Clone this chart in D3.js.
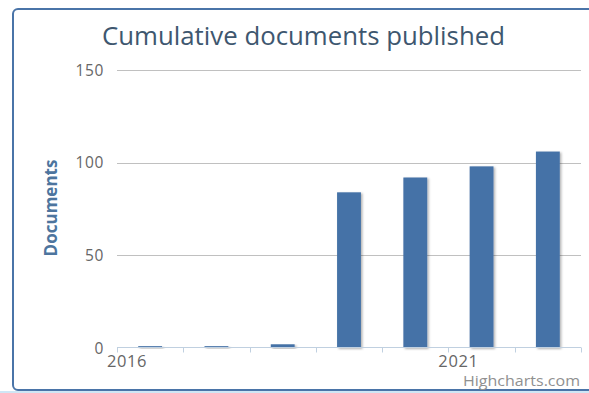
<!DOCTYPE html>
<html>
<head>
<meta charset="utf-8">
<script src="https://cdn.jsdelivr.net/npm/d3@7"></script>
<style>
  html, body { margin: 0; padding: 0; background: #fff; }
  svg { display: block; font-family: "Open Sans", "DejaVu Sans", sans-serif; }
</style>
</head>
<body>
<svg id="chart" width="589" height="393"></svg>
<script>
// Cumulative number of documents per year
const years = ["2016", "2017", "2018", "2019", "2020", "2021", "2022"];
const documents = [1, 1, 2, 84, 92, 98, 106];
const yTicks = [0, 50, 100, 150];
const xLabels = ["2016", "2021"];

const svg = d3.select("#chart");

// drop shadow for the columns
const defs = svg.append("defs");
const f = defs.append("filter").attr("id", "shadow")
  .attr("x", "-20%").attr("y", "-5%").attr("width", "150%").attr("height", "115%");
f.append("feDropShadow").attr("dx", 1.5).attr("dy", 1).attr("stdDeviation", 1.3)
  .attr("flood-color", "#000").attr("flood-opacity", 0.3);

// faint base line and chart frame
svg.append("line").attr("x1", 0).attr("x2", 589).attr("y1", 392).attr("y2", 392)
  .attr("stroke", "#cfe6f5").attr("stroke-width", 2);
svg.append("rect").attr("x", 13).attr("y", 9).attr("width", 620).attr("height", 381)
  .attr("rx", 5).attr("fill", "#fff").attr("stroke", "#4a74a8").attr("stroke-width", 2);

const x = d3.scaleBand().domain(years).range([117, 581]).paddingInner(0.64).paddingOuter(0.32);
const y = d3.scaleLinear().domain([0, 150]).range([348, 70]);

// title
svg.append("text").attr("x", 303.5).attr("y", 45).attr("text-anchor", "middle")
  .attr("fill", "#3e576f").attr("font-size", 25)
  .attr("textLength", 403).attr("lengthAdjust", "spacingAndGlyphs")
  .text("Cumulative documents published");

// horizontal grid
svg.append("g").selectAll("line").data(yTicks.filter(d => d > 0)).join("line")
  .attr("x1", 117).attr("x2", 581)
  .attr("y1", d => Math.round(y(d)) + 0.5).attr("y2", d => Math.round(y(d)) + 0.5)
  .attr("stroke", "#c0c0c0").attr("stroke-width", 1);

// y axis labels
svg.append("g").selectAll("text").data(yTicks).join("text")
  .attr("x", 104).attr("y", d => y(d) + 5.5).attr("text-anchor", "end")
  .attr("fill", "#666").attr("font-size", 15.5).attr("letter-spacing", 0.6).text(d => d);

// y axis title
svg.append("text").attr("transform", "translate(57,208) rotate(-90)")
  .attr("text-anchor", "middle").attr("fill", "#4d759e").attr("font-size", 17)
  .attr("font-weight", "bold").text("Documents");

// columns
svg.append("g").selectAll("rect").data(years).join("rect")
  .attr("x", d => x(d)).attr("width", x.bandwidth())
  .attr("y", (d, i) => y(documents[i])).attr("height", (d, i) => y(0) - y(documents[i]))
  .attr("fill", "#4572a7").attr("filter", "url(#shadow)");

// x axis line and ticks at category boundaries
const axisY = 347.5;
svg.append("line").attr("x1", 117).attr("x2", 581).attr("y1", axisY).attr("y2", axisY)
  .attr("stroke", "#c0d0e0").attr("stroke-width", 1);
const step = x.step();
const bounds = d3.range(years.length + 1).map(i => x.range()[0] + i * step);
svg.append("g").selectAll("line").data(bounds).join("line")
  .attr("x1", d => Math.round(d) + 0.5).attr("x2", d => Math.round(d) + 0.5)
  .attr("y1", axisY).attr("y2", axisY + 5)
  .attr("stroke", "#c0d0e0").attr("stroke-width", 1);

// x axis labels
svg.append("g").selectAll("text").data(xLabels).join("text")
  .attr("x", d => x(d) - x.paddingOuter() * step + 10).attr("y", 367)
  .attr("text-anchor", "middle").attr("fill", "#666").attr("font-size", 16.5)
  .attr("letter-spacing", 0.6).text(d => d);

// credits
svg.append("text").attr("x", 580).attr("y", 386).attr("text-anchor", "end")
  .attr("fill", "#909090").attr("font-size", 14.5)
  .attr("textLength", 117).attr("lengthAdjust", "spacingAndGlyphs")
  .text("Highcharts.com");
</script>
</body>
</html>
